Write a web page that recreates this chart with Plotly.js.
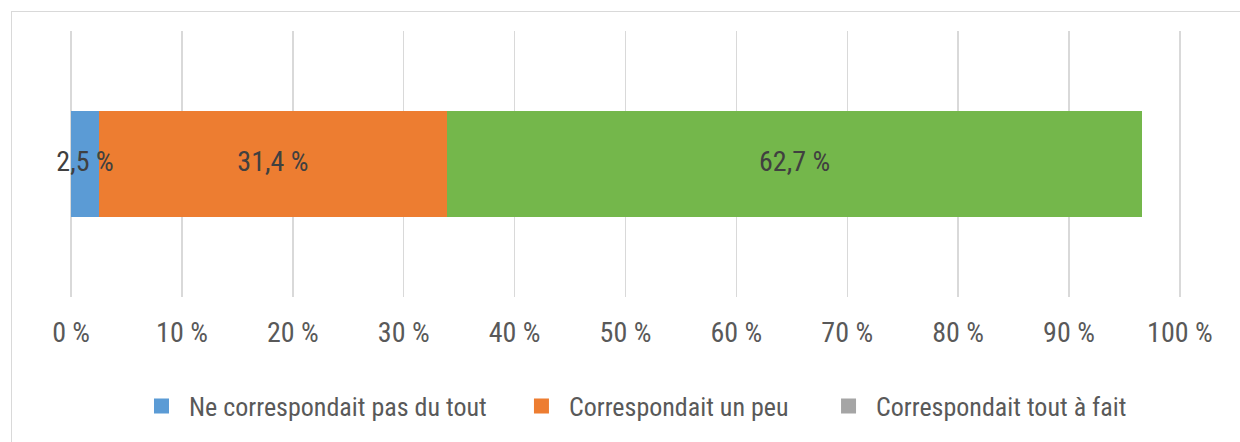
<!DOCTYPE html>
<html>
<head>
<meta charset="utf-8">
<script src="https://cdn.plot.ly/plotly-3.0.1.min.js"></script>
<style>
  html, body { margin: 0; padding: 0; background: #fff; }
  #wrap { position: relative; width: 1240px; height: 442px; overflow: hidden; }
  #frame { position: absolute; left: 11px; top: 11px; width: 1240px; height: 440px; border: 1.5px solid #D9D9D9; box-sizing: border-box; pointer-events: none; }
  #chart { position: absolute; left: 0; top: 0; width: 1240px; height: 442px; }
</style>
</head>
<body>
<div id="wrap">
  <div id="chart"></div>
  <div id="frame"></div>
</div>
<script>
const categories = [""];
const seriesNames = ["Ne correspondait pas du tout", "Correspondait un peu", "Correspondait tout à fait"];
const pasDuTout = [2.5];
const unPeu = [31.4];
const toutAFait = [62.7];
const dataLabels = ["2,5 %", "31,4 %", "62,7 %"];
const tickValues = [0, 10, 20, 30, 40, 50, 60, 70, 80, 90, 100];
const tickLabels = ["0 %", "10 %", "20 %", "30 %", "40 %", "50 %", "60 %", "70 %", "80 %", "90 %", "100 %"];
const barColors = ["#5B9BD5", "#ED7D31", "#74B74B"];
const legendColors = ["#5B9BD5", "#ED7D31", "#A5A5A5"];

const FONT = "'Roboto Condensed', 'Liberation Sans Narrow', 'Arial Narrow', sans-serif";

function barTrace(vals, name, color) {
  return {
    type: "bar", orientation: "h", y: categories, x: vals, name: name,
    marker: { color: color, line: { width: 0 } },
    showlegend: false, hoverinfo: "skip"
  };
}
function legendEntry(name, color, legendId) {
  return {
    type: "scatter", mode: "markers", x: [null], y: [null], name: name,
    marker: { symbol: "square", size: 15, color: color },
    legend: legendId, showlegend: true, hoverinfo: "skip"
  };
}

// label positions: middle of each stacked segment, derived from the data
const segs = [pasDuTout[0], unPeu[0], toutAFait[0]];
const mids = [];
let acc = 0;
segs.forEach(v => { mids.push(acc + v / 2); acc += v; });

const data = [
  barTrace(pasDuTout, seriesNames[0], barColors[0]),
  barTrace(unPeu, seriesNames[1], barColors[1]),
  barTrace(toutAFait, seriesNames[2], barColors[2]),
  legendEntry(seriesNames[0], legendColors[0], "legend"),
  legendEntry(seriesNames[1], legendColors[1], "legend2"),
  legendEntry(seriesNames[2], legendColors[2], "legend3"),
  { type: "scatter", mode: "text", x: mids, y: [categories[0], categories[0], categories[0]],
    text: dataLabels, textposition: "middle center", showlegend: false, hoverinfo: "skip",
    textfont: { family: FONT, size: 28, color: "#404040" }, cliponaxis: false }
];

const legendCommon = {
  orientation: "h", yanchor: "middle", xanchor: "left", y: -0.41,
  font: { family: FONT, size: 26, color: "#595959" },
  bgcolor: "rgba(0,0,0,0)", borderwidth: 0, itemwidth: 45, itemsizing: "trace"
};

const layout = {
  width: 1240, height: 442,
  margin: { l: 70, r: 59, t: 31, b: 141 },
  paper_bgcolor: "#ffffff", plot_bgcolor: "#ffffff",
  barmode: "stack", bargap: 0.6,
  showlegend: true,
  xaxis: {
    range: [-0.1, 100.1], tickvals: tickValues, ticktext: tickLabels,
    showgrid: true, gridcolor: "#D9D9D9", gridwidth: 1.5,
    zeroline: false, showline: false, ticks: "",
    ticklabelstandoff: 16,
    tickfont: { family: FONT, size: 28, color: "#595959" },
    fixedrange: true
  },
  yaxis: { showticklabels: false, showgrid: false, zeroline: false, range: [-0.5, 0.5], fixedrange: true },
  legend: Object.assign({}, legendCommon, { x: 0.0576 }),
  legend2: Object.assign({}, legendCommon, { x: 0.3996 }),
  legend3: Object.assign({}, legendCommon, { x: 0.6760 })
};

Plotly.newPlot("chart", data, layout, { displayModeBar: false, staticPlot: true });
</script>
</body>
</html>
